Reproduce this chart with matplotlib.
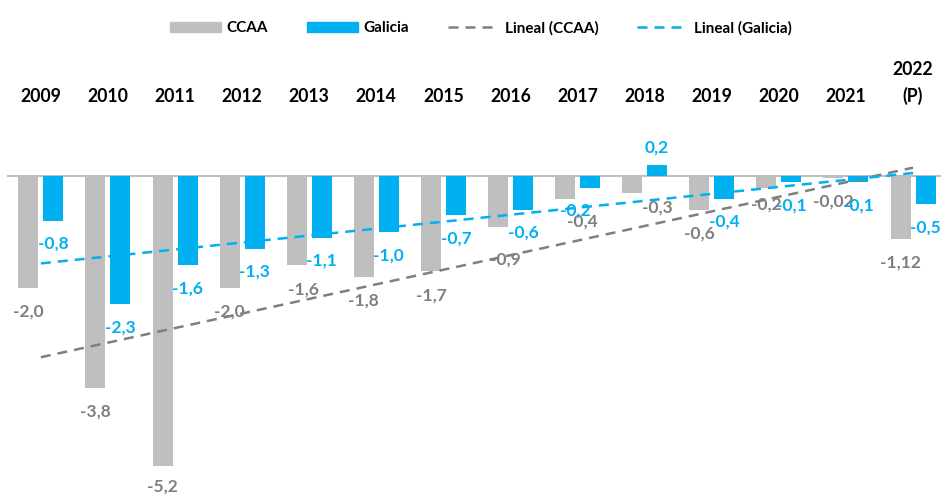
import matplotlib
matplotlib.use("Agg")
import matplotlib.pyplot as plt
import numpy as np
from matplotlib.lines import Line2D
from matplotlib.patches import Patch
from matplotlib.transforms import blended_transform_factory

# ─── Data ─────────────────────────────────────────────────────────────
YEARS = ["2009", "2010", "2011", "2012", "2013", "2014", "2015",
         "2016", "2017", "2018", "2019", "2020", "2021", "2022\n(P)"]
CCAA = [-2.0, -3.8, -5.2, -2.0, -1.6, -1.8, -1.7,
        -0.9, -0.4, -0.3, -0.6, -0.2, -0.02, -1.12]
GALICIA = [-0.8, -2.3, -1.6, -1.3, -1.1, -1.0, -0.7,
           -0.6, -0.2, 0.2, -0.4, -0.1, -0.1, -0.5]

# ─── Style ────────────────────────────────────────────────────────────
GREY_BAR = "#BFBFBF"
GREY_TXT = "#7F7F7F"
BLUE = "#00B0F0"
FONT = "Lato"

# hand-placed label nudges (pixels), keyed by category index
CCAA_NUDGE = {2: (0, 3), 4: (7, 0), 7: (7, -9), 8: (17, 1),
              9: (25, 10), 11: (0, 7)}
GAL_NUDGE = {8: (-15, 0)}

plt.rcParams["font.family"] = [FONT, "DejaVu Sans"]
plt.rcParams["font.weight"] = "bold"


def fmt(v):
    s = f"{v:.2f}"
    if s.endswith("0"):
        s = s[:-1]
    return s.replace(".", ",")


fig = plt.figure(figsize=(9.41, 4.94), dpi=100)
W, H = 941, 494
ax = fig.add_axes([7.3 / W, 0, 939.3 / W, 374 / H])
ax.set_xlim(-0.5, 13.5)
ax.set_ylim(-5.71, 1.016)
ax.axis("off")

x = np.arange(len(YEARS))
bw = 0.298
off = 0.186

ax.axhline(0, color=GREY_BAR, linewidth=1.5, zorder=1)
ax.bar(x - off, CCAA, width=bw, color=GREY_BAR, zorder=2)
ax.bar(x + off, GALICIA, width=bw, color=BLUE, zorder=2)

# linear trend lines over all years
for vals, color in [(CCAA, GREY_TXT), (GALICIA, BLUE)]:
    k, b = np.polyfit(x, vals, 1)
    ax.plot(x, k * x + b, color=color, linewidth=1.8,
            linestyle=(0, (4, 2.8)), zorder=3)

# data labels
for series, dx0, color, nudges, below in [
        (CCAA, -off, GREY_TXT, CCAA_NUDGE, -24),
        (GALICIA, off, BLUE, GAL_NUDGE, -23)]:
    for i, v in enumerate(series):
        ndx, ndy = nudges.get(i, (0, 0))
        dy = 18 if v > 0 else below
        ax.annotate(fmt(v), (i + dx0, v), xytext=(ndx, dy + ndy),
                    textcoords="offset pixels", ha="center", va="center",
                    fontsize=12.5, fontweight="bold", color=color, zorder=4)

# category labels along the top
trans = blended_transform_factory(ax.transData, fig.transFigure)
base_y = 1 - 101.5 / H
for i, lab in enumerate(YEARS):
    lines = lab.split("\n")
    for j, line in enumerate(reversed(lines)):
        ax.annotate(line, (i, base_y), xycoords=trans,
                    xytext=(0, 26.5 * j), textcoords="offset pixels",
                    ha="center", va="baseline", fontsize=12.7,
                    fontweight="bold", color="black", annotation_clip=False)

handles = [
    Patch(color=GREY_BAR, label="CCAA"),
    Patch(color=BLUE, label="Galicia"),
    Line2D([], [], color=GREY_TXT, linewidth=1.8, linestyle=(0, (4, 2.8)),
           label="Lineal (CCAA)"),
    Line2D([], [], color=BLUE, linewidth=1.8, linestyle=(0, (4, 2.8)),
           label="Lineal (Galicia)"),
]
fig.legend(handles=handles, loc="center", bbox_to_anchor=(481 / W, 1 - 28 / H),
           ncol=4, frameon=False, fontsize=11, handlelength=3.3,
           handleheight=0.7, handletextpad=0.4, columnspacing=2.55)

fig.savefig("out.png", dpi=100)
